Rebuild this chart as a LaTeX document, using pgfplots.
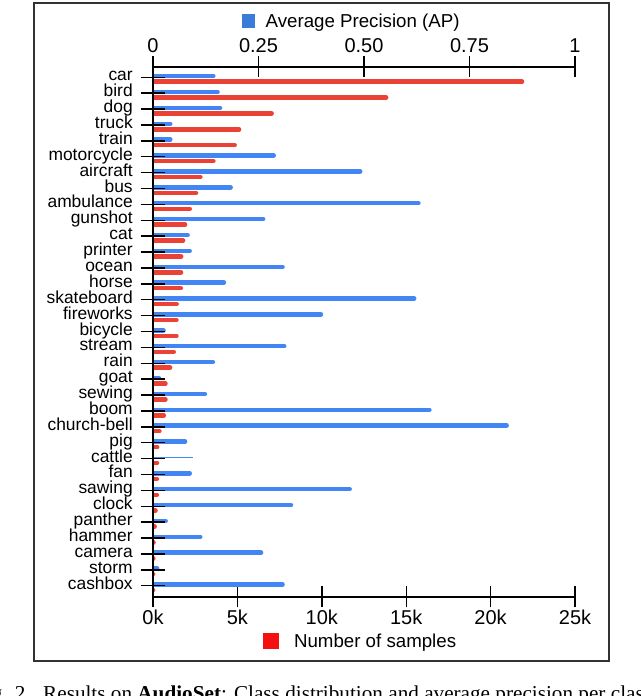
\documentclass[border=0pt]{standalone}
\usepackage{pgfplots}
\pgfplotsset{compat=1.18}
\usepackage{pgfplotstable}
\usepackage{fontspec}
\setmainfont{Liberation Sans}
\newfontfamily\capfont{Liberation Serif}

\definecolor{apblue}{RGB}{66,133,244}
\definecolor{nred}{RGB}{234,67,53}
\definecolor{legblue}{RGB}{58,124,216}
\definecolor{legred}{RGB}{245,15,15}
\definecolor{framegray}{RGB}{50,50,50}

% ap = average precision (top axis), n = number of samples (bottom axis)
\pgfplotstableread{
idx name ap n
0 car 0.143 21860
1 bird 0.153 13810
2 dog 0.159 7030
3 truck 0.041 5100
4 train 0.041 4840
5 motorcycle 0.286 3580
6 aircraft 0.491 2810
7 bus 0.184 2550
8 ambulance 0.629 2180
9 gunshot 0.261 1900
10 cat 0.082 1780
11 printer 0.087 1670
12 ocean 0.307 1660
13 horse 0.168 1650
14 skateboard 0.619 1400
15 fireworks 0.398 1390
16 bicycle 0.025 1390
17 stream 0.311 1230
18 rain 0.142 1010
19 goat 0.014 740
20 sewing 0.123 740
21 boom 0.655 640
22 church-bell 0.838 380
23 pig 0.076 250
24 cattle 0.095 240
25 fan 0.087 230
26 sawing 0.466 230
27 clock 0.327 150
28 panther 0.030 100
29 hammer 0.112 30
30 camera 0.256 20
31 storm 0.010 10
32 cashbox 0.307 10
}\audioset

\pgfplotsset{
  base/.style={
    at={(153pt,99pt)}, anchor=south west,
    width=422pt, height=530pt, scale only axis,
    ymin=-32.71, ymax=0.648,
    axis line style={line width=1.4pt, black},
    tick style={line width=1.4pt, black},
    tick align=center,
    major tick length=21pt,
  },
}

\begin{document}
\begin{tikzpicture}[x=1pt,y=1pt]
\useasboundingbox (0,0) rectangle (640,696);
\clip (0,0) rectangle (640,696);
\draw[framegray, line width=1.5pt] (34,35) rectangle (609,693);

% number of samples (bottom axis)
\begin{axis}[base,
  xmin=0, xmax=25000,
  axis x line=bottom, axis y line=none, axis line style={-},
  scaled x ticks=false,
  xtick={0,5000,10000,15000,20000,25000},
  xticklabels={0k,5k,10k,15k,20k,25k},
  xticklabel style={font=\fontsize{20}{24}\selectfont, anchor=base, yshift=-17pt},
  legend style={draw=none, fill=none, at={(0.489,0)}, anchor=center, yshift=-44pt,
    font=\fontsize{18.7}{22}\selectfont, inner sep=0pt, nodes={inner sep=0pt}},
]
\addplot[xcomb, nred, line width=4.5pt, line cap=round,
  legend image code/.code={\fill[legred] (0pt,-6pt) rectangle (12pt,6pt); \path (27pt,0pt);}]
  table[x=n, y expr=-\thisrow{idx}-0.277] {\audioset};
\addlegendentry{Number of samples}
\end{axis}

% average precision (top axis)
\begin{axis}[base,
  xmin=0, xmax=1,
  axis x line=top, axis y line=none, axis line style={-},
  xtick={0,0.25,0.5,0.75,1},
  xticklabels={0,0.25,0.50,0.75,1},
  xticklabel style={font=\fontsize{20}{24}\selectfont, anchor=base, yshift=4pt},
  legend style={draw=none, fill=none, at={(0.469,1)}, anchor=center, yshift=46pt,
    font=\fontsize{18.7}{22}\selectfont, inner sep=0pt, nodes={inner sep=0pt}},
]
\addplot[xcomb, apblue, line width=4.5pt, line cap=round,
  skip coords between index={24}{25},
  legend image code/.code={\fill[legblue] (0pt,-4.3pt) rectangle (8.6pt,4.3pt); \path (19pt,0pt);}]
  table[x=ap, y expr=-\thisrow{idx}+0.075] {\audioset};
\addlegendentry{Average Precision (AP)}
% cattle is drawn as a thin line in the original
\addplot[xcomb, apblue, line width=1.3pt, restrict expr to domain={\coordindex}{24:24}]
  table[x=ap, y expr=-\thisrow{idx}+0.075] {\audioset};
\end{axis}

% category axis drawn last so its ticks sit on the bars
\begin{axis}[base,
  xmin=0, xmax=1,
  axis x line=none, axis y line=left, axis line style={-},
  major tick length=25pt,
  ytick={-32,-31,...,0},
  yticklabels={cashbox,storm,camera,hammer,panther,clock,sawing,fan,cattle,pig,church-bell,boom,sewing,goat,rain,stream,bicycle,fireworks,skateboard,horse,ocean,printer,cat,gunshot,ambulance,bus,aircraft,motorcycle,train,truck,dog,bird,car},
  yticklabel style={font=\fontsize{17.4}{20}\selectfont, anchor=base east, inner sep=0pt, xshift=-7.6pt, yshift=-3.5pt},
]
\end{axis}

\node[anchor=base east, inner sep=0pt, font=\capfont\fontsize{21.2}{24}\selectfont] at (31,-5) {Fig. 2.};
\node[anchor=base west, inner sep=0pt, font=\capfont\fontsize{21.2}{24}\selectfont] at (43,-5)
  {Results on \textbf{AudioSet}: Class distribution and average precision per class.};
\end{tikzpicture}
\end{document}
